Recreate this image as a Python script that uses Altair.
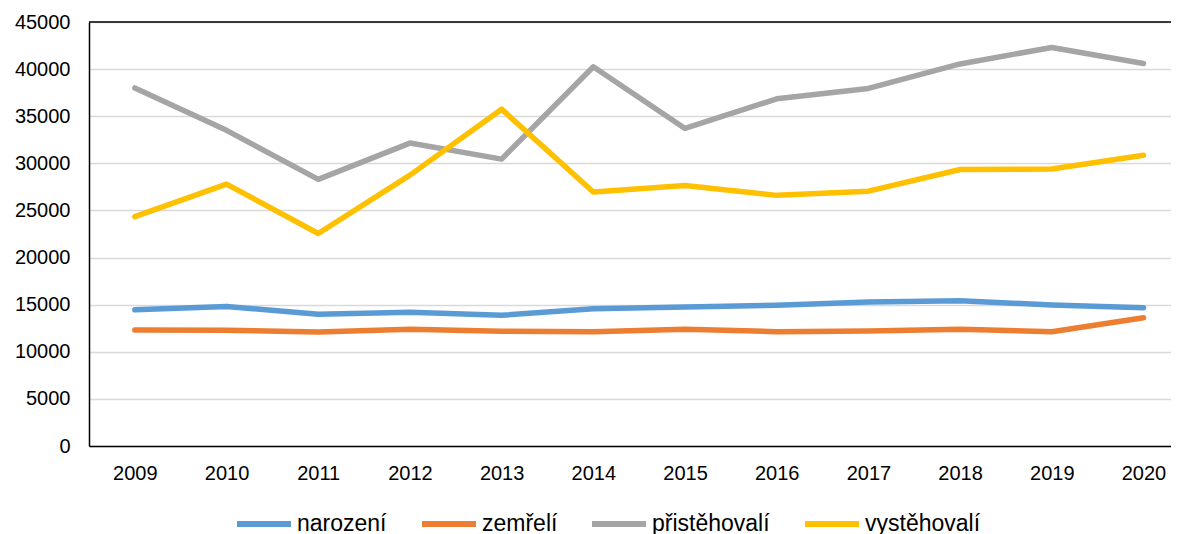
import altair as alt
import pandas as pd

years = [2009, 2010, 2011, 2012, 2013, 2014, 2015, 2016, 2017, 2018, 2019, 2020]
series = ["narození", "zemřelí", "přistěhovalí", "vystěhovalí"]
colors = ["#5B9BD5", "#ED7D31", "#A5A5A5", "#FFC000"]

narozeni = [14450, 14800, 13980, 14190, 13870, 14570, 14750, 14930, 15280, 15420, 14970, 14680]
zemreli = [12310, 12280, 12100, 12390, 12170, 12130, 12390, 12130, 12200, 12390, 12130, 13620]
pristehovali = [38000, 33500, 28300, 32150, 30450, 40250, 33700, 36850, 37950, 40550, 42300, 40600]
vystehovali = [24350, 27800, 22550, 28750, 35750, 26950, 27650, 26600, 27050, 29350, 29400, 30850]

y_ticks = [0, 5000, 10000, 15000, 20000, 25000, 30000, 35000, 40000, 45000]
x_domain = [2008.5, 2020.3]

# legend entry placement (style, pixels from plot origin)
legend_x = [145, 330, 500, 713]
legend_y = 472

values = [narozeni, zemreli, pristehovali, vystehovali]
rows = []
for s, vals in zip(series, values):
    for yr, v in zip(years, vals):
        rows.append({"year": yr, "series": s, "value": v})
df = pd.DataFrame(rows)

FONT = "Liberation Sans"

x_enc = alt.X("year:Q",
              scale=alt.Scale(domain=x_domain, nice=False, zero=False),
              axis=alt.Axis(title=None, values=years, format="d", labelAngle=0, ticks=False,
                            grid=False, labelFlush=False, labelOverlap=False,
                            domainColor="black", domainWidth=1.5,
                            labelFontSize=20, labelPadding=17, labelColor="black"))
y_enc = alt.Y("value:Q",
              scale=alt.Scale(domain=[0, 45000], nice=False),
              axis=alt.Axis(title=None, values=y_ticks, format="d", ticks=False,
                            grid=True, gridColor="#D9D9D9", gridWidth=1.5,
                            domainColor="black", domainWidth=1.5,
                            labelFontSize=20, labelPadding=19, labelColor="black"))

layers = []
for s, c, lx in zip(series, colors, legend_x):
    layers.append(
        alt.Chart(df).transform_filter(alt.datum.series == s)
        .mark_line(strokeWidth=5.5, strokeCap="round", strokeJoin="round")
        .encode(
            x=x_enc,
            y=y_enc,
            color=alt.Color("series:N",
                            scale=alt.Scale(domain=[s], range=[c]),
                            legend=alt.Legend(title=None, orient="none", legendX=lx, legendY=legend_y,
                                              direction="horizontal", symbolType="stroke",
                                              symbolSize=2916, symbolStrokeWidth=6,
                                              labelFontSize=23, labelOffset=3,
                                              labelColor="black", labelFont=FONT)),
        )
    )

top_border = alt.Chart(pd.DataFrame({"y": [45000]})).mark_rule(color="black", strokeWidth=1.5).encode(
    y=alt.Y("y:Q", scale=alt.Scale(domain=[0, 45000], nice=False))
)

chart = alt.layer(*layers, top_border).resolve_scale(color="independent").properties(
    width=1082, height=424,
    autosize=alt.AutoSizeParams(type="none"),
    padding={"left": 81, "top": 14, "right": 0, "bottom": 88},
).configure(font=FONT).configure_view(stroke=None)

chart.save("out.html", embed_options={"renderer": "svg", "actions": False})
